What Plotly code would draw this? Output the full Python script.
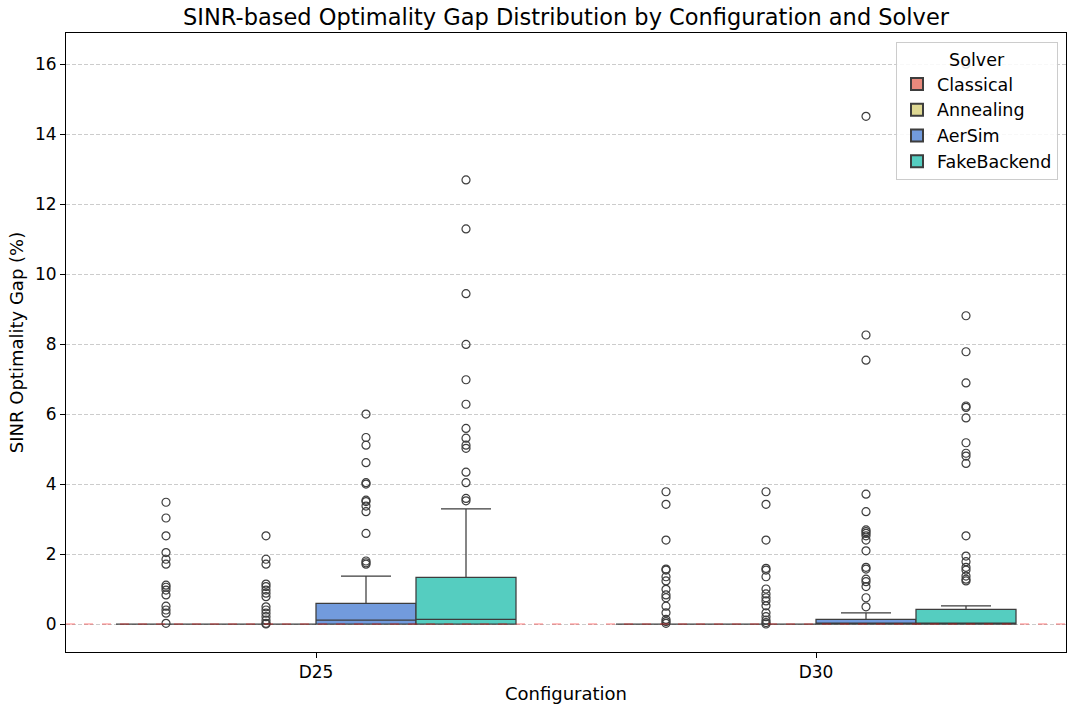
import plotly.graph_objects as go

configs = ["D25", "D30"]
solvers = ["Classical", "Annealing", "AerSim", "FakeBackend"]
colors = ["#E8897C", "#DED893", "#729BDD", "#55CDC0"]

# box statistics per solver: [D25, D30]
q1 = {"Classical": [0, 0], "Annealing": [0, 0], "AerSim": [0, 0], "FakeBackend": [0, 0]}
median = {"Classical": [0, 0], "Annealing": [0, 0], "AerSim": [0.11, 0.0], "FakeBackend": [0.13, 0.0]}
q3 = {"Classical": [0, 0], "Annealing": [0, 0], "AerSim": [0.59, 0.13], "FakeBackend": [1.33, 0.42]}
lowerfence = {"Classical": [0, 0], "Annealing": [0, 0], "AerSim": [0, 0], "FakeBackend": [0, 0]}
upperfence = {"Classical": [0, 0], "Annealing": [0, 0], "AerSim": [1.37, 0.32], "FakeBackend": [3.29, 0.52]}

outliers_classical_d25 = [3.48, 3.03, 2.52, 2.04, 1.85, 1.71, 1.11, 1.05, 0.97, 0.83, 0.51, 0.40, 0.31, 0.02]
outliers_annealing_d25 = [2.52, 1.85, 1.71, 1.14, 1.07, 0.97, 0.88, 0.78, 0.49, 0.40, 0.31, 0.21, 0.11, 0.02, 0.0]
outliers_aersim_d25 = [6.0, 5.33, 5.11, 4.61, 4.04, 4.0, 3.54, 3.50, 3.37, 3.21, 2.59, 1.80, 1.75, 1.71]
outliers_fake_d25 = [12.69, 11.29, 9.44, 7.99, 6.98, 6.28, 5.59, 5.31, 5.11, 5.02, 4.34, 4.04, 3.59, 3.52]
outliers_classical_d30 = [3.78, 3.42, 2.40, 1.57, 1.54, 1.35, 1.23, 0.99, 0.83, 0.75, 0.51, 0.32, 0.13, 0.07, 0.02]
outliers_annealing_d30 = [3.78, 3.42, 2.40, 1.59, 1.54, 1.35, 1.0, 0.86, 0.75, 0.66, 0.52, 0.32, 0.21, 0.11, 0.04, 0.0]
outliers_aersim_d30 = [14.51, 8.26, 7.54, 3.71, 3.21, 2.69, 2.64, 2.59, 2.52, 2.40, 2.09, 1.62, 1.57, 1.28, 1.21, 1.07, 0.75, 0.49]
outliers_fake_d30 = [16.0, 8.81, 7.78, 6.89, 6.23, 6.19, 5.89, 5.18, 4.88, 4.80, 4.59, 2.52, 1.94, 1.78, 1.62, 1.54, 1.37, 1.28, 1.23]

outliers = {
    "Classical": [outliers_classical_d25, outliers_classical_d30],
    "Annealing": [outliers_annealing_d25, outliers_annealing_d30],
    "AerSim": [outliers_aersim_d25, outliers_aersim_d30],
    "FakeBackend": [outliers_fake_d25, outliers_fake_d30],
}

box_w = 0.2
offsets = [-0.3, -0.1, 0.1, 0.3]
edge = "#3D3D3D"

fig = go.Figure()
for i, s in enumerate(solvers):
    xs = [ci + offsets[i] for ci in range(len(configs))]
    fig.add_trace(go.Box(
        name=s, x=xs, q1=q1[s], median=median[s], q3=q3[s],
        lowerfence=lowerfence[s], upperfence=upperfence[s],
        width=box_w, whiskerwidth=0.5,
        fillcolor=colors[i], line=dict(color=edge, width=1.25),
        boxpoints=False, showlegend=True,
    ))
for i, s in enumerate(solvers):
    ox, oy = [], []
    for ci in range(len(configs)):
        for v in outliers[s][ci]:
            ox.append(ci + offsets[i])
            oy.append(v)
    fig.add_trace(go.Scatter(
        x=ox, y=oy, mode="markers", showlegend=False,
        marker=dict(symbol="circle-open", size=8, color=edge, line=dict(width=1.2)),
        hoverinfo="y",
    ))

fig.add_shape(type="line", xref="paper", yref="y", x0=0, x1=1, y0=0, y1=0,
              line=dict(color="rgba(255,0,0,0.5)", width=1, dash="dash"), layer="above")

fig.update_layout(
    width=1067, height=704,
    margin=dict(l=66, r=1, t=33, b=52),
    paper_bgcolor="white", plot_bgcolor="white",
    font=dict(family="DejaVu Sans", size=17, color="black"),
    title=dict(text="SINR-based Optimality Gap Distribution by Configuration and Solver",
               x=0.5305, xanchor="center", y=0.975, yanchor="middle",
               font=dict(size=22.5, color="black")),
    boxmode="overlay",
    showlegend=True,
    legend=dict(
        title=dict(text="Solver", side="top center", font=dict(size=17.5)),
        x=0.992, xanchor="right", y=0.985, yanchor="top",
        bgcolor="rgba(255,255,255,0.85)", bordercolor="#CCCCCC", borderwidth=1,
        font=dict(size=17.5), tracegroupgap=0, itemsizing="constant",
    ),
    xaxis=dict(
        range=[-0.5, 1.5], tickmode="array", tickvals=[0, 1], ticktext=configs,
        showline=True, mirror=True, linecolor="black", linewidth=1,
        ticks="outside", ticklen=5, tickcolor="black", showgrid=False, zeroline=False,
        title=dict(text="Configuration", font=dict(size=18), standoff=6),
        tickfont=dict(size=17),
    ),
    yaxis=dict(
        range=[-0.8, 16.89], tickmode="array", tickvals=list(range(0, 17, 2)),
        showline=True, mirror=True, linecolor="black", linewidth=1,
        ticks="outside", ticklen=5, tickcolor="black",
        showgrid=True, gridcolor="#CCCCCC", griddash="4px,2px", gridwidth=1, zeroline=False,
        title=dict(text="SINR Optimality Gap (%)", font=dict(size=18), standoff=6),
        tickfont=dict(size=17),
    ),
)

fig.write_html("out.html")
